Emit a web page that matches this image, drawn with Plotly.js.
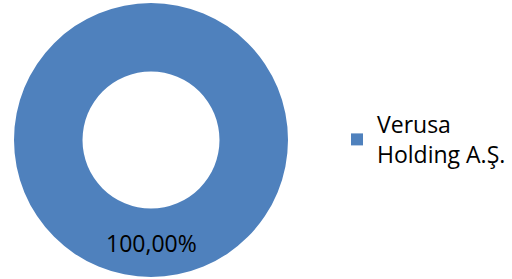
<!DOCTYPE html>
<html>
<head>
<meta charset="utf-8">
<script src="https://cdn.plot.ly/plotly-3.0.1.min.js"></script>
<style>html,body{margin:0;padding:0;background:#fff;}#chart{width:512px;height:279px;}</style>
</head>
<body>
<div id="chart"></div>
<script>
const categories = ["Verusa<br>Holding A.Ş."];
const values = [100];
const colors = ["#4F81BD"];

const total = values.reduce((a, b) => a + b, 0);
const pctText = values.map(v => (v / total * 100).toFixed(2).replace('.', ',') + '%');

const trace = {
  type: 'pie',
  labels: categories,
  values: values,
  hole: 0.5,
  sort: false,
  direction: 'clockwise',
  rotation: 0,
  marker: {colors: colors, line: {width: 0}},
  textinfo: 'none',
  domain: {x: [14/512, 288/512], y: [2/279, 276/279]},
  hoverinfo: 'none'
};

const layout = {
  width: 512,
  height: 279,
  margin: {l: 0, r: 0, t: 0, b: 0},
  paper_bgcolor: '#fff',
  showlegend: true,
  legend: {
    x: 337/512,
    xanchor: 'left',
    y: 0.5,
    yanchor: 'middle',
    font: {family: 'Open Sans, sans-serif', size: 23, color: '#000'},
    bgcolor: 'rgba(0,0,0,0)',
    borderwidth: 0
  },
  annotations: [{
    text: pctText[0],
    xref: 'paper', yref: 'paper',
    x: 151/512, y: (279 - 243)/279,
    xanchor: 'center', yanchor: 'middle',
    showarrow: false,
    font: {family: 'Open Sans, sans-serif', size: 23, color: '#000'}
  }],
  font: {family: 'Open Sans, sans-serif'}
};

Plotly.newPlot('chart', [trace], layout, {staticPlot: true, displayModeBar: false});
</script>
</body>
</html>
